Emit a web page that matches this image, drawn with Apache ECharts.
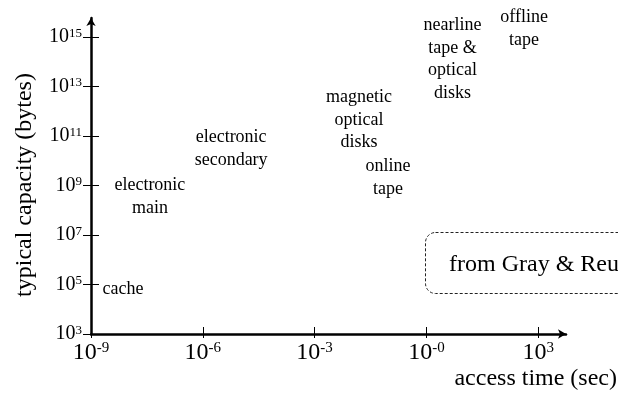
<!DOCTYPE html>
<html>
<head>
<meta charset="utf-8">
<script src="https://cdn.jsdelivr.net/npm/echarts@6/dist/echarts.min.js"></script>
<style>
html,body{margin:0;padding:0;background:#fff;}
#chart{width:618px;height:394px;}
</style>
</head>
<body>
<div id="chart"></div>
<script>
// Storage technologies (labels placed at log10 access time / log10 capacity)
const techNames = ['cache', 'electronic\nmain', 'electronic\nsecondary', 'magnetic\noptical\ndisks', 'online\ntape', 'nearline\ntape &\noptical\ndisks', 'offline\ntape'];
const accessTimeLog10 = [-8.14, -7.42, -5.24, -1.81, -1.03, 0.70, 2.62];
const capacityLog10 = [4.80, 8.54, 10.49, 11.65, 9.32, 14.11, 15.34];

// Tick values (exponents) and their superscript labels
const xTickValues = [-9, -6, -3, 0, 3];
const xTickSups = ['-9', '-6', '-3', '-0', '3'];
const yTickValues = [3, 5, 7, 9, 11, 13, 15];
const yTickSups = ['3', '5', '7', '9', '11', '13', '15'];

const FONT = '"Liberation Serif", "Times New Roman", serif';

const chart = echarts.init(document.getElementById('chart'));

function tickFmt(values, sups) {
  return function (v) {
    const i = values.findIndex(t => Math.abs(t - v) < 1e-6);
    return '{b|10}{s|' + (i >= 0 ? sups[i] : '') + '}';
  };
}

const axisLineStyle = { color: '#000', width: 2.5 };

chart.setOption({
  animation: false,
  backgroundColor: '#fff',
  grid: { left: 91, right: 52, top: 18, bottom: 60, containLabel: false },
  xAxis: [
    {
      type: 'value', min: -9, max: 3.745,
      axisLine: { show: true, onZero: false, symbol: ['none', 'arrow'], symbolSize: [7, 8], lineStyle: axisLineStyle },
      axisTick: { show: true, customValues: xTickValues, length: 4, inside: false, lineStyle: { color: '#000', width: 1 } },
      axisLabel: {
        show: true, customValues: xTickValues, margin: 7,
        formatter: tickFmt(xTickValues, xTickSups),
        rich: {
          b: { fontFamily: FONT, fontSize: 24, lineHeight: 24, color: '#000' },
          s: { fontFamily: FONT, fontSize: 15, lineHeight: 15, color: '#000', verticalAlign: 'top' }
        }
      },
      splitLine: { show: false }
    },
    {
      type: 'value', min: -9, max: 3.745, position: 'bottom',
      axisLine: { show: false, onZero: false },
      axisTick: { show: true, customValues: xTickValues, length: 7, inside: true, lineStyle: { color: '#000', width: 1 } },
      axisLabel: { show: false },
      splitLine: { show: false }
    }
  ],
  yAxis: [
    {
      type: 'value', min: 3, max: 15.77,
      axisLine: { show: true, onZero: false, symbol: ['none', 'arrow'], symbolSize: [7, 8], lineStyle: axisLineStyle },
      axisTick: { show: true, customValues: yTickValues, length: 8, inside: false, lineStyle: { color: '#000', width: 1 } },
      axisLabel: {
        show: true, customValues: yTickValues, margin: 9,
        formatter: tickFmt(yTickValues, yTickSups),
        rich: {
          b: { fontFamily: FONT, fontSize: 20, lineHeight: 20, color: '#000' },
          s: { fontFamily: FONT, fontSize: 13, lineHeight: 13, color: '#000', verticalAlign: 'top' }
        }
      },
      splitLine: { show: false }
    },
    {
      type: 'value', min: 3, max: 15.77, position: 'left',
      axisLine: { show: false, onZero: false },
      axisTick: { show: true, customValues: yTickValues, length: 8, inside: true, lineStyle: { color: '#000', width: 1 } },
      axisLabel: { show: false },
      splitLine: { show: false }
    }
  ],
  series: [
    {
      type: 'scatter',
      xAxisIndex: 0, yAxisIndex: 0,
      silent: true,
      clip: false,
      symbol: 'circle',
      symbolSize: 1,
      itemStyle: { color: 'rgba(0,0,0,0)' },
      data: techNames.map((n, i) => ({ name: n, value: [accessTimeLog10[i], capacityLog10[i]] })),
      label: {
        show: true, position: 'inside', opacity: 1,
        formatter: p => p.name,
        fontFamily: FONT, fontSize: 18, lineHeight: 22.5, color: '#000', align: 'center'
      },
      emphasis: { disabled: true }
    }
  ],
  graphic: [
    {
      type: 'text', x: 25, y: 185, rotation: Math.PI / 2, silent: true,
      style: { text: 'typical capacity (bytes)', font: '24px ' + FONT, fill: '#000', textAlign: 'center', textVerticalAlign: 'middle', align: 'center', verticalAlign: 'middle' }
    },
    {
      type: 'text', x: 617, y: 379, silent: true,
      style: { text: 'access time (sec)', font: '24px ' + FONT, fill: '#000', textAlign: 'right', textVerticalAlign: 'middle', align: 'right', verticalAlign: 'middle' }
    },
    {
      type: 'rect', silent: true,
      shape: { x: 425.5, y: 232.5, width: 320, height: 61, r: 10 },
      style: { fill: 'none', stroke: '#222', lineWidth: 1, lineDash: [3, 2] }
    },
    {
      type: 'text', x: 449, y: 265, silent: true,
      style: { text: 'from Gray & Reuter', font: '24px ' + FONT, fill: '#000', textAlign: 'left', textVerticalAlign: 'middle', align: 'left', verticalAlign: 'middle' }
    }
  ]
});
</script>
</body>
</html>
